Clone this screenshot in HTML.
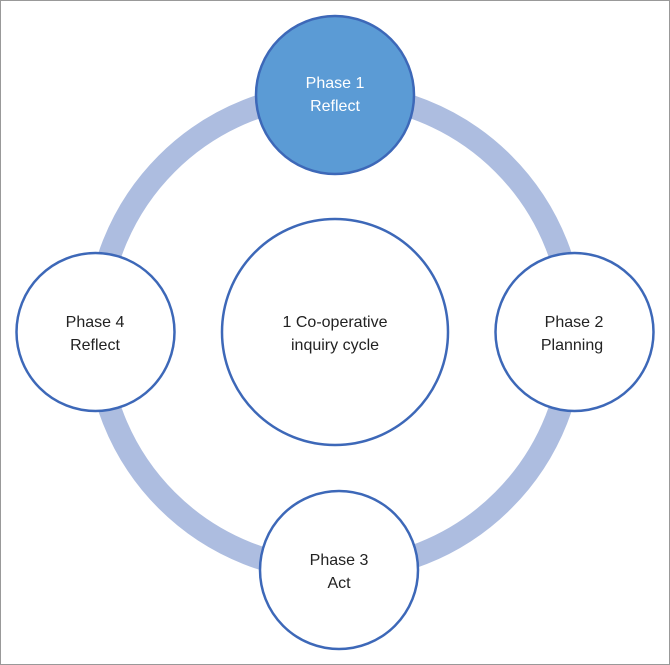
<!DOCTYPE html>
<html><head><style>
html,body{margin:0;padding:0;background:#fff;}
svg{display:block;}
text{font-family:"Liberation Sans",sans-serif;font-size:16px;fill:#222;}
</style></head><body>
<svg width="670" height="665" viewBox="0 0 670 665" xmlns="http://www.w3.org/2000/svg">
<rect x="0.5" y="0.5" width="669" height="664" fill="#fff" stroke="#999" stroke-width="1"/>
<circle cx="335" cy="332" r="238" fill="none" stroke="#adbde0" stroke-width="23"/>
<circle cx="335" cy="332" r="113" fill="#fff" stroke="#3d68b8" stroke-width="2.5"/>
<circle cx="335" cy="95" r="79" fill="#5b9bd5" stroke="#3d68b8" stroke-width="2.5"/>
<circle cx="95.5" cy="332" r="79" fill="#fff" stroke="#3d68b8" stroke-width="2.5"/>
<circle cx="574.5" cy="332" r="79" fill="#fff" stroke="#3d68b8" stroke-width="2.5"/>
<circle cx="339" cy="570" r="79" fill="#fff" stroke="#3d68b8" stroke-width="2.5"/>
<g text-anchor="middle">
<text x="335" y="88" style="fill:#fff">Phase 1</text>
<text x="335" y="111" style="fill:#fff">Reflect</text>
<text x="95" y="327">Phase 4</text>
<text x="95" y="350">Reflect</text>
<text x="335" y="327">1 Co-operative</text>
<text x="335" y="350">inquiry cycle</text>
<text x="574" y="327">Phase 2</text>
<text x="572" y="350">Planning</text>
<text x="339" y="565">Phase 3</text>
<text x="339" y="588">Act</text>
</g>
</svg>
</body></html>
